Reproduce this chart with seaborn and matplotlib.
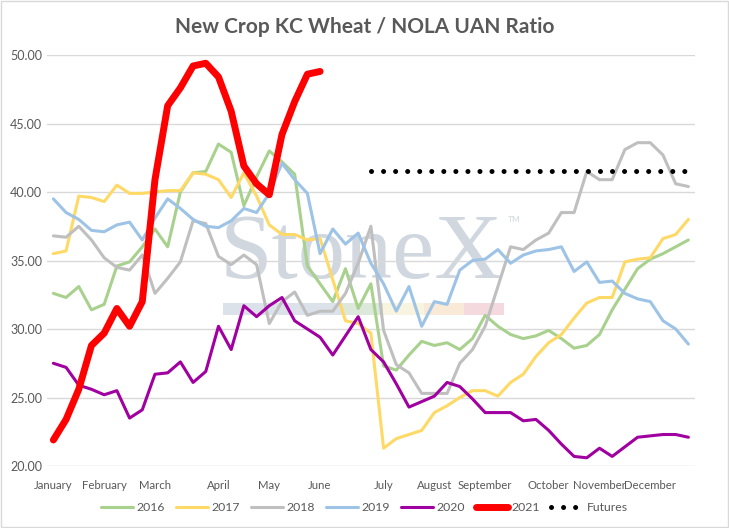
import numpy as np
import pandas as pd
import seaborn as sns
import matplotlib.pyplot as plt
from matplotlib.patches import Rectangle

plt.rcParams["font.family"] = ["Lato", "DejaVu Sans"]

nan = np.nan

# weekly index, month labels sit on first week of each month
weeks = list(range(51))
month_pos = [0, 4, 8, 13, 17, 21, 26, 30, 34, 39, 43, 47]
month_labels = ["January", "February", "March", "April", "May", "June",
                "July", "August", "September", "October", "November", "December"]

y2016 = [32.6, 32.3, 33.1, 31.4, 31.8, 34.6, 34.9, 36.0, 37.3, 36.0, 40.0, 41.4, 41.5,
         43.5, 42.9, 39.0, 41.1, 43.0, 42.2, 41.3, 34.6, 33.3, 32.0, 34.4, 31.5, 33.3,
         27.3, 27.0, 28.1, 29.1, 28.8, 29.0, 28.5, 29.3, 31.0, 30.2, 29.6, 29.3, 29.5,
         29.9, 29.3, 28.6, 28.8, 29.6, 31.4, 32.9, 34.4, 35.1, 35.5, 36.0, 36.5]
y2017 = [35.5, 35.7, 39.7, 39.6, 39.3, 40.5, 39.9, 39.9, 40.0, 40.1, 40.1, 41.4, 41.3,
         40.9, 39.6, 41.4, 39.7, 37.6, 36.9, 36.9, 36.5, 36.6, 33.6, 30.6, 30.4, 29.7,
         21.3, 22.0, 22.3, 22.6, 23.9, 24.4, 25.0, 25.5, 25.5, 25.1, 26.1, 26.7, 28.0,
         29.0, 29.6, 30.8, 31.9, 32.3, 32.3, 34.9, 35.1, 35.2, 36.6, 36.9, 38.0]
y2018 = [36.8, 36.7, 37.5, 36.5, 35.2, 34.5, 34.3, 35.4, 32.6, 33.7, 34.9, 37.9, 37.7,
         35.3, 34.7, 35.4, 34.7, 30.4, 32.0, 32.7, 31.0, 31.3, 31.3, 32.6, 34.8, 37.5,
         29.9, 27.4, 26.8, 25.3, 25.3, 25.3, 27.5, 28.5, 30.2, 33.1, 36.0, 35.8, 36.5,
         37.0, 38.5, 38.5, 41.5, 40.9, 40.9, 43.1, 43.6, 43.6, 42.7, 40.6, 40.4]
y2019 = [39.5, 38.5, 38.0, 37.2, 37.1, 37.6, 37.8, 36.5, 38.1, 39.5, 38.8, 38.0, 37.5,
         37.4, 37.9, 38.8, 38.5, 39.9, 42.1, 40.9, 39.9, 35.5, 37.3, 36.2, 37.0, 34.8,
         33.3, 31.3, 33.1, 30.2, 32.0, 31.8, 34.3, 35.0, 35.1, 35.8, 34.8, 35.4, 35.7,
         35.8, 36.0, 34.2, 34.9, 33.4, 33.5, 32.6, 32.2, 32.0, 30.6, 30.0, 28.9]
y2020 = [27.5, 27.2, 25.9, 25.6, 25.2, 25.5, 23.5, 24.1, 26.7, 26.8, 27.6, 26.1, 26.9,
         30.2, 28.5, 31.7, 30.9, 31.7, 32.3, 30.6, 30.0, 29.4, 28.1, 29.5, 30.9, 28.5,
         27.6, 26.0, 24.3, 24.7, 25.1, 26.1, 25.8, 24.9, 23.9, 23.9, 23.9, 23.3, 23.4,
         22.6, 21.6, 20.7, 20.6, 21.3, 20.7, 21.4, 22.1, 22.2, 22.3, 22.3, 22.1]
y2021 = [21.9, 23.4, 25.6, 28.8, 29.7, 31.5, 30.2, 32.0, 40.9, 46.3, 47.6, 49.2, 49.4,
         48.4, 45.9, 41.9, 40.6, 39.8, 44.2, 46.6, 48.6, 48.8] + [nan] * 29
futures = [nan] * 25 + [41.5] * 26

series = [("2016", y2016, "#A9D18E", 2.2),
          ("2017", y2017, "#FFD966", 2.2),
          ("2018", y2018, "#BFBFBF", 2.2),
          ("2019", y2019, "#9DC3E6", 2.2),
          ("2020", y2020, "#A100A1", 2.2),
          ("2021", y2021, "#FF0000", 5.0)]

fig = plt.figure(figsize=(7.29, 5.28), dpi=100)
ax = fig.add_axes([0.0645, 0.1174, 0.8885, 0.7784])

# StoneX watermark
ax.text(0.486, 0.458, "StoneX", transform=ax.transAxes, ha="center", va="baseline",
        fontsize=68, family="Liberation Serif", color="#d0d7df", zorder=0)
ax.text(0.722, 0.60, "TM", transform=ax.transAxes, ha="center", va="center",
        fontsize=6, color="#d0d7df", zorder=0)
bar = [(0.272, 0.457, "#dbe2ea"), (0.457, 0.519, "#dce8db"), (0.519, 0.582, "#f9f4e0"),
       (0.582, 0.644, "#f9e9d7"), (0.644, 0.705, "#f4dade")]
for x0, x1, c in bar:
    ax.add_patch(Rectangle((x0, 0.367), x1 - x0, 0.03, transform=ax.transAxes,
                           color=c, lw=0, zorder=0))

for name, vals, col, lw in series:
    sns.lineplot(x=weeks, y=vals, color=col, linewidth=lw, label=name, ax=ax,
                 solid_capstyle="round", solid_joinstyle="round", zorder=3)
sns.lineplot(x=weeks, y=futures, color="black", linewidth=3.6, label="Futures", ax=ax,
             linestyle=(0, (0.01, 2.4)), dash_capstyle="round", zorder=3)

ax.set_xlim(-0.5, 50.5)
ax.set_ylim(20, 50)
ax.set_yticks(np.arange(20, 50.1, 5))
ax.set_yticklabels([f"{v:.2f}" for v in np.arange(20, 50.1, 5)])
ax.set_xticks(month_pos)
ax.set_xticklabels(month_labels)
ax.tick_params(length=0, labelsize=9, labelcolor="#595959")
ax.tick_params(axis="x", pad=10, labelsize=8.2)
ax.grid(axis="y", color="#d9d9d9", linewidth=1)
ax.set_axisbelow(True)
for s in ax.spines.values():
    s.set_visible(False)
ax.set_xlabel("")
ax.set_ylabel("")

fig.suptitle("New Crop KC Wheat / NOLA UAN Ratio", x=0.5, y=0.968, fontsize=15,
             fontweight="bold", color="#595959")

handles, labels = ax.get_legend_handles_labels()
ax.legend_.remove()
fig.legend(handles, labels, loc="center", bbox_to_anchor=(0.5, 0.038), ncol=7,
           frameon=False, fontsize=8.8, labelcolor="#595959", handlelength=2.6,
           handletextpad=0.3, columnspacing=0.9)

fig.patches.append(Rectangle((0.001, 0.001), 0.998, 0.998, transform=fig.transFigure,
                             fill=False, edgecolor="#d9d9d9", lw=1))

plt.savefig("out.png", dpi=100)
